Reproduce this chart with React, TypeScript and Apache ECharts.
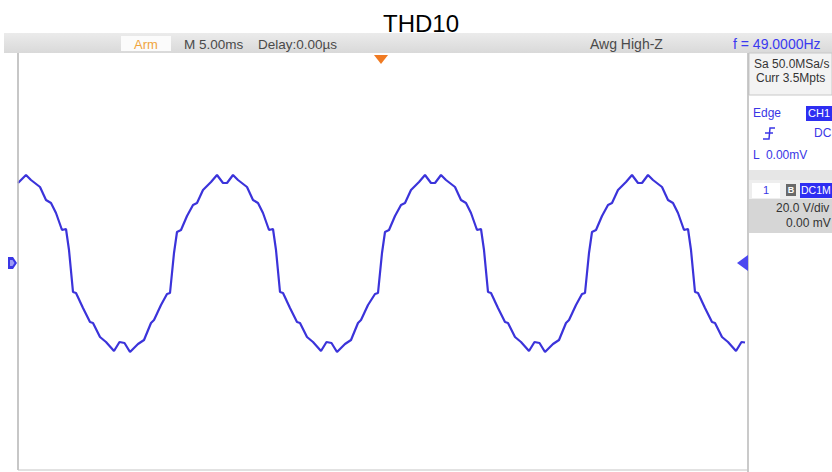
import React, { useEffect, useRef } from "react";
import * as echarts from "echarts";

// Channel 1 trace, [time ms, voltage V]
const cycle0: number[][] = [
  [0, 32.0], [0.8, 35.2], [1.3, 33.2], [2.2, 30.4], [2.8, 25.2], [3.3, 24.0], [3.8, 20.0], [4.4, 13.2], [4.8, 13.6],
  [5.1, 5.2], [5.5, -11.6], [5.8, -12.0], [6.5, -18.0], [7.2, -23.6], [7.5, -24.0], [8.2, -29.6], [8.8, -31.6],
  [9.6, -35.2], [10.15, -31.6], [10.65, -32.0], [11.2, -35.6], [12.0, -32.4], [12.6, -30.8], [13.3, -24.0],
  [13.6, -22.8], [14.3, -16.8],
];
const cycle1: number[][] = [
  [14.9, -12.4], [15.2, -12.0], [15.6, 4.0], [15.9, 12.4], [16.3, 13.2], [16.9, 18.8], [17.5, 23.2], [17.9, 24.0],
  [18.5, 29.2], [19.3, 32.4], [19.9, 35.2], [20.5, 32.0], [20.9, 32.0], [21.5, 35.2], [22.0, 33.2], [22.9, 30.4],
  [23.5, 25.2], [24.0, 24.0], [24.5, 20.0], [25.1, 13.2], [25.5, 13.6], [25.8, 5.2], [26.2, -11.6], [26.5, -12.0],
  [27.2, -18.0], [27.9, -23.6], [28.2, -24.0], [28.9, -29.6], [29.5, -31.6], [30.3, -35.2], [30.85, -31.6],
  [31.35, -32.0], [31.9, -35.6], [32.7, -32.4], [33.3, -30.8], [34.0, -24.0], [34.3, -22.8], [35.0, -16.8],
];
const cycle2: number[][] = [
  [35.7, -12.4], [36.0, -12.0], [36.4, 4.0], [36.7, 12.4], [37.1, 13.2], [37.7, 18.8], [38.3, 23.2], [38.7, 24.0],
  [39.3, 29.2], [40.1, 32.4], [40.7, 35.2], [41.3, 32.0], [41.7, 32.0], [42.3, 35.2], [42.8, 33.2], [43.7, 30.4],
  [44.3, 25.2], [44.8, 24.0], [45.3, 20.0], [45.9, 13.2], [46.3, 13.6], [46.6, 5.2], [47.0, -11.6], [47.3, -12.0],
  [48.0, -18.0], [48.7, -23.6], [49.0, -24.0], [49.7, -29.6], [50.3, -31.6], [51.1, -35.2], [51.65, -31.6],
  [52.15, -32.0], [52.7, -35.6], [53.5, -32.4], [54.1, -30.8], [54.8, -24.0], [55.1, -22.8], [55.8, -16.8],
];
const cycle3: number[][] = [
  [56.4, -12.4], [56.7, -12.0], [57.1, 4.0], [57.4, 12.4], [57.8, 13.2], [58.4, 18.8], [59.0, 23.2], [59.4, 24.0],
  [60.0, 29.2], [60.8, 32.4], [61.4, 35.2], [62.0, 32.0], [62.4, 32.0], [63.0, 35.2], [63.5, 33.2], [64.4, 30.4],
  [65.0, 25.2], [65.5, 24.0], [66.0, 20.0], [66.6, 13.2], [67.0, 13.6], [67.3, 5.2], [67.7, -11.6], [68.0, -12.0],
  [68.7, -18.0], [69.4, -23.6], [69.7, -24.0], [70.4, -29.6], [71.0, -31.6], [71.8, -35.2], [72.35, -31.6],
  [72.7, -31.8],
];

const titleText = "THD10";
const headerLabels = ["M 5.00ms", "Delay:0.00\u00b5s", "Awg High-Z"];
const freqLabel = "f = 49.0000Hz";
const acqLabels = ["Sa 50.0MSa/s", "Curr 3.5Mpts"];
const trigLabels = ["Edge", "CH1", "DC", "L  0.00mV"];
const chanLabels = ["1", "B", "DC1M", "20.0 V/div", "0.00 mV"];

const FONT = "'Liberation Sans', Arial, sans-serif";
const BLUE = "#3a36e6";

export default function App() {
  const ref = useRef<HTMLDivElement>(null);
  useEffect(() => {
    if (!ref.current) return;
    const chart = echarts.init(ref.current, undefined, { renderer: "svg" });
    const trace = [...cycle0, ...cycle1, ...cycle2, ...cycle3];
    const txt = (text: string, x: number, y: number, fill: string, size = 13, align = "left", weight = "normal") => ({
      type: "text",
      z: 20,
      style: { text, x, y, fill, fontSize: size, fontFamily: FONT, fontWeight: weight, textAlign: align, textVerticalAlign: "middle", verticalAlign: "middle" },
    });
    chart.setOption({
      animation: false,
      backgroundColor: "#ffffff",
      title: {
        text: titleText,
        left: 378,
        top: 6,
        textStyle: { fontSize: 24, fontWeight: "normal", color: "#000", fontFamily: FONT },
      },
      grid: { left: 18, top: 53, width: 730, height: 418 },
      xAxis: { type: "value", min: 0, max: 73, show: false },
      yAxis: { type: "value", min: -83.2, max: 84, show: false },
      series: [
        {
          type: "line",
          data: trace,
          showSymbol: false,
          smooth: false,
          lineStyle: { color: "#3b33da", width: 2.2 },
          z: 5,
        },
      ],
      graphic: [
        // header bar
        {
          type: "rect", z: 1,
          shape: { x: 4, y: 33, width: 828, height: 20 },
          style: { fill: new echarts.graphic.LinearGradient(0, 0, 0, 1, [{ offset: 0, color: "#ebebeb" }, { offset: 1, color: "#d9d9d9" }]) },
        },
        { type: "rect", z: 2, shape: { x: 121, y: 36, width: 50, height: 15 }, style: { fill: "#fbfbfb" } },
        txt("Arm", 146, 44, "#f0a43c", 13, "center"),
        txt(headerLabels[0], 184, 44, "#4a4a4a", 13.5),
        txt(headerLabels[1], 258, 44, "#4a4a4a", 13.5),
        txt(headerLabels[2], 590, 44, "#4a4a4a", 14),
        txt(freqLabel, 733, 44, "#3a3af0", 14),
        // trigger position marker
        { type: "polygon", z: 10, shape: { points: [[374, 55], [388, 55], [381, 64]] }, style: { fill: "#f07a22" } },
        // screen frame
        { type: "line", z: 10, shape: { x1: 18, y1: 53, x2: 18, y2: 470 }, style: { stroke: "#b4b4b4", lineWidth: 1.5 } },
        { type: "line", z: 10, shape: { x1: 748, y1: 53, x2: 748, y2: 472 }, style: { stroke: "#b8b8b8", lineWidth: 1.5 } },
        { type: "line", z: 10, shape: { x1: 18, y1: 470, x2: 748, y2: 470 }, style: { stroke: "#c4c4c4", lineWidth: 1 } },
        // right panel: acquisition box
        { type: "rect", z: 8, shape: { x: 749, y: 53, width: 83, height: 42 }, style: { fill: "#f3f3f3", stroke: "#c8c8c8", lineWidth: 1 } },
        txt(acqLabels[0], 754, 64, "#333333", 12),
        txt(acqLabels[1], 756, 78, "#333333", 12),
        // trigger box
        txt(trigLabels[0], 753, 113, BLUE, 12),
        { type: "rect", z: 9, shape: { x: 806, y: 106, width: 28, height: 15 }, style: { fill: "#2e2ef2" } },
        txt(trigLabels[1], 808, 113, "#ffffff", 11),
        { type: "polyline", z: 10, shape: { points: [[775, 128], [770, 128], [769, 139], [763, 139]] }, style: { stroke: BLUE, lineWidth: 1.5, fill: null } },
        { type: "line", z: 10, shape: { x1: 765, y1: 133, x2: 773, y2: 133 }, style: { stroke: BLUE, lineWidth: 1.5 } },
        txt(trigLabels[2], 814, 133, BLUE, 12),
        txt(trigLabels[3], 753, 155, BLUE, 12),
        // channel box
        { type: "rect", z: 8, shape: { x: 749, y: 170, width: 83, height: 10 }, style: { fill: "#e6e6e6" } },
        { type: "rect", z: 8, shape: { x: 749, y: 180, width: 83, height: 19 }, style: { fill: "#eeeeee" } },
        { type: "rect", z: 9, shape: { x: 752, y: 183, width: 28, height: 15 }, style: { fill: "#ffffff" } },
        txt(chanLabels[0], 766, 190, BLUE, 11, "center"),
        { type: "rect", z: 9, shape: { x: 786, y: 184, width: 10, height: 12 }, style: { fill: "#6a6a6a" } },
        txt(chanLabels[1], 791, 190, "#ffffff", 9, "center", "bold"),
        { type: "rect", z: 9, shape: { x: 800, y: 183, width: 34, height: 15 }, style: { fill: "#2e2ef2" } },
        txt(chanLabels[2], 801, 190, "#ffffff", 10.5),
        { type: "rect", z: 8, shape: { x: 749, y: 199, width: 83, height: 34 }, style: { fill: "#d6d6d6" } },
        txt(chanLabels[3], 776, 208, "#333333", 12),
        txt(chanLabels[4], 786, 223, "#333333", 12),
        // channel offset markers
        { type: "polygon", z: 10, shape: { points: [[737, 263], [748, 255], [748, 271]] }, style: { fill: "#4c48f0" } },
        { type: "polygon", z: 10, shape: { points: [[8, 257], [13, 257], [17, 263], [13, 269], [8, 269]] }, style: { fill: "#3a36e6" } },
        { type: "polygon", z: 11, shape: { points: [[10, 260], [12.5, 260], [14.5, 263], [12.5, 266], [10, 266]] }, style: { fill: "#9c9af6" } },
      ],
    });
    return () => chart.dispose();
  }, []);
  return <div ref={ref} style={{ position: "fixed", left: 0, top: 0, width: 832, height: 472 }} />;
}
